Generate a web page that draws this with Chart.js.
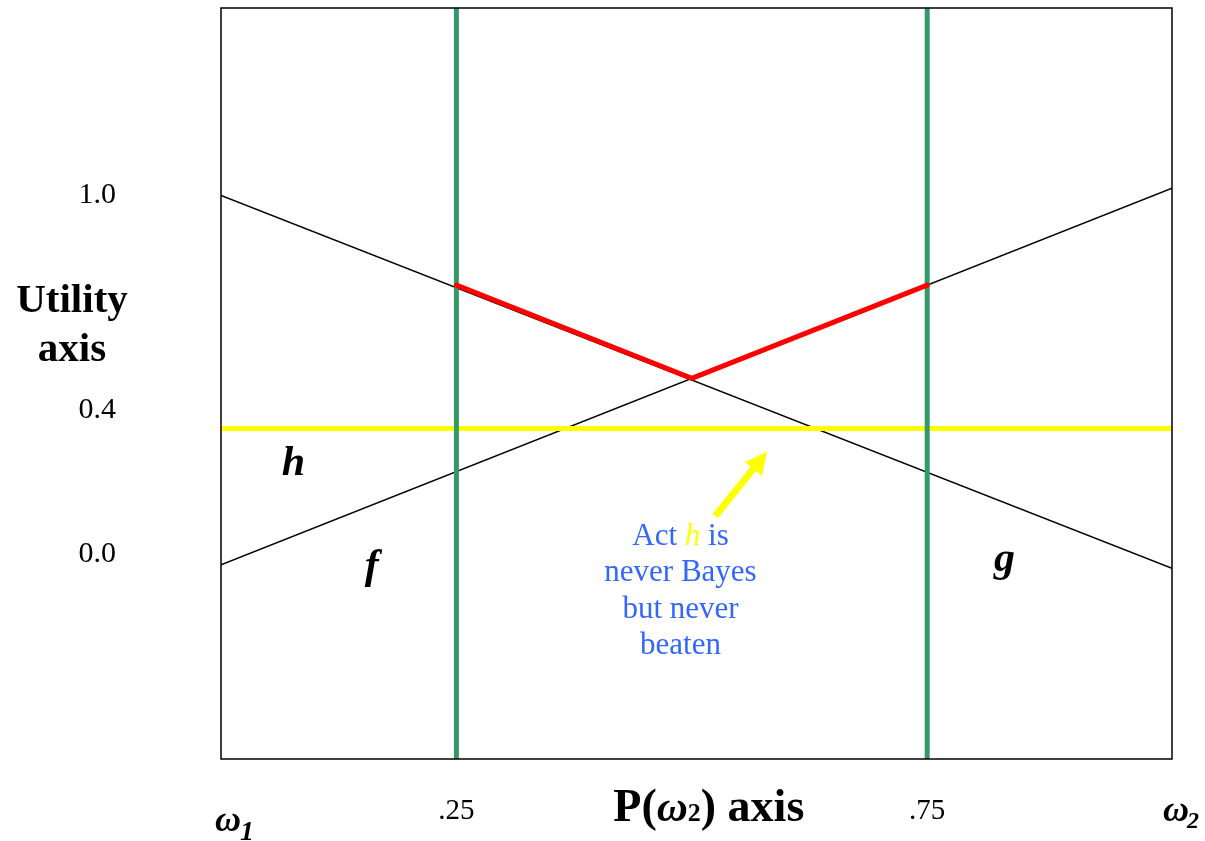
<!DOCTYPE html>
<html>
<head>
<meta charset="utf-8">
<script src="https://cdn.jsdelivr.net/npm/chart.js@4/dist/chart.umd.min.js"></script>
<style>
  html, body { margin: 0; padding: 0; background: #ffffff; }
  #wrap { width: 1205px; height: 841px; }
</style>
</head>
<body>
<div id="wrap"><canvas id="c" width="1205" height="841"></canvas></div>
<script>
// P(ω2) at the two edges of the frame
const pEdge = [0, 1.01];
// Utility of each act at those edges
const utilF = [-0.03, 1.02];
const utilG = [1.0, -0.04];
const utilH = [0.35, 0.35];
// Bayes envelope between the two prior bounds
const bayesP = [0.25, 0.5, 0.75];
const bayesU = [0.75, 0.49, 0.75];
// Prior bounds
const priorMarks = [0.25, 0.75];
// Axis ranges and ticks
const xRange = [0, 1.01];
const yRange = [-0.572, 1.523];
const xTickValues = [0.25, 0.75];
const yTickValues = [1.0, 0.4, 0.0];
// Act labels (position in P, utility)
const actNames = ['h', 'f', 'g'];
const actLabelP = [0.077, 0.16, 0.832];
const actLabelU = [0.22, -0.067, -0.047];
// Note and its arrow
const noteLines = ['Act h is', 'never Bayes', 'but never', 'beaten'];
const noteAnchor = [0.488, 0.025];
const arrowFrom = [0.525, 0.106];
const arrowTo = [0.58, 0.285];

const SERIF = '"Liberation Serif", "Times New Roman", serif';
const GREEN = '#339966';
const RED = '#ff0000';
const YELLOW = '#ffff00';
const BLUE = '#3366ff';

const pts = (xs, ys) => xs.map((x, i) => ({ x: x, y: ys[i] }));

const datasets = [
  { label: 'f', data: pts(pEdge, utilF), borderColor: '#000', borderWidth: 1.5, order: 4 },
  { label: 'g', data: pts(pEdge, utilG), borderColor: '#000', borderWidth: 1.5, order: 4 },
  { label: 'h', data: pts(pEdge, utilH), borderColor: YELLOW, borderWidth: 5, order: 3 },
  ...priorMarks.map(m => ({
    label: 'prior ' + m,
    data: [{ x: m, y: yRange[0] }, { x: m, y: yRange[1] }],
    borderColor: GREEN, borderWidth: 5, order: 2
  })),
  { label: 'Bayes', data: pts(bayesP, bayesU), borderColor: RED, borderWidth: 5,
    borderCapStyle: 'round', borderJoinStyle: 'round', order: 1 }
];

// Frame, axis titles, act labels, note and arrow
const decorations = {
  id: 'decorations',
  afterDraw(chart) {
    const { ctx, chartArea: a, scales: { x, y } } = chart;
    ctx.save();

    // frame
    ctx.strokeStyle = '#000';
    ctx.lineWidth = 1.5;
    ctx.strokeRect(a.left, a.top, a.right - a.left, a.bottom - a.top);

    ctx.fillStyle = '#000';
    ctx.textBaseline = 'alphabetic';

    // y-axis title
    ctx.font = 'bold 41px ' + SERIF;
    ctx.textAlign = 'center';
    ctx.fillText('Utility', a.left - 149, 312);
    ctx.fillText('axis', a.left - 149, 361);

    // act labels
    ctx.font = 'italic bold 42px ' + SERIF;
    actNames.forEach((n, i) => {
      ctx.fillText(n, x.getPixelForValue(actLabelP[i]), y.getPixelForValue(actLabelU[i]));
    });

    // state labels at the ends of the P axis
    ctx.textAlign = 'left';
    const x0 = x.getPixelForValue(xRange[0]);
    const x1 = x.getPixelForValue(xRange[1]);
    ctx.font = 'italic bold 36px ' + SERIF;
    ctx.fillText('ω', x0 - 6, a.bottom + 72);
    ctx.fillText('ω', x1 - 9, a.bottom + 62);
    ctx.font = 'italic bold 28px ' + SERIF;
    ctx.fillText('1', x0 + 19, a.bottom + 81);
    ctx.font = 'italic bold 24px ' + SERIF;
    ctx.fillText('2', x1 + 15, a.bottom + 69);

    // x-axis title: P(ω2) axis
    const segs = [
      { t: 'P(', f: 'bold 46px ' + SERIF },
      { t: 'ω', f: 'italic bold 43px ' + SERIF },
      { t: '2', f: 'bold 26px ' + SERIF },
      { t: ') axis', f: 'bold 46px ' + SERIF }
    ];
    let total = 0;
    segs.forEach(s => { ctx.font = s.f; s.w = ctx.measureText(s.t).width; total += s.w; });
    let cx = x.getPixelForValue(0.5) + 17 - total / 2;
    const titleBase = a.bottom + 62;
    segs.forEach(s => { ctx.font = s.f; ctx.fillText(s.t, cx, titleBase); cx += s.w; });

    // note
    const nx = x.getPixelForValue(noteAnchor[0]);
    let ny = y.getPixelForValue(noteAnchor[1]);
    const noteFont = '31px ' + SERIF;
    const first = [
      { t: 'Act ', f: noteFont, c: BLUE },
      { t: 'h', f: 'italic ' + noteFont, c: YELLOW },
      { t: ' is', f: noteFont, c: BLUE }
    ];
    let w1 = 0;
    first.forEach(s => { ctx.font = s.f; s.w = ctx.measureText(s.t).width; w1 += s.w; });
    let lx = nx - w1 / 2;
    first.forEach(s => { ctx.font = s.f; ctx.fillStyle = s.c; ctx.fillText(s.t, lx, ny); lx += s.w; });
    ctx.font = noteFont;
    ctx.fillStyle = BLUE;
    ctx.textAlign = 'center';
    noteLines.slice(1).forEach(line => { ny += 36.4; ctx.fillText(line, nx, ny); });

    // arrow pointing at h
    const ax = x.getPixelForValue(arrowFrom[0]), ay = y.getPixelForValue(arrowFrom[1]);
    const bx = x.getPixelForValue(arrowTo[0]), by = y.getPixelForValue(arrowTo[1]);
    const ang = Math.atan2(by - ay, bx - ax);
    const len = Math.hypot(bx - ax, by - ay);
    const headL = 22, headW = 11, shaftW = 3.5;
    ctx.translate(ax, ay);
    ctx.rotate(ang);
    ctx.fillStyle = YELLOW;
    ctx.beginPath();
    ctx.moveTo(0, -shaftW);
    ctx.lineTo(len - headL, -shaftW);
    ctx.lineTo(len - headL, -headW);
    ctx.lineTo(len, 0);
    ctx.lineTo(len - headL, headW);
    ctx.lineTo(len - headL, shaftW);
    ctx.lineTo(0, shaftW);
    ctx.closePath();
    ctx.fill();

    ctx.restore();
  }
};

// keep the frame exactly inside the layout padding
const noScalePadding = s => {
  s.paddingTop = 0; s.paddingBottom = 0; s.paddingLeft = 0; s.paddingRight = 0;
};

new Chart(document.getElementById('c'), {
  type: 'line',
  data: { datasets: datasets },
  options: {
    responsive: false,
    animation: false,
    elements: { point: { radius: 0, hoverRadius: 0 }, line: { tension: 0, fill: false } },
    layout: { padding: { top: 8, right: 33, left: 0, bottom: 0 } },
    plugins: { legend: { display: false }, tooltip: { enabled: false }, title: { display: false } },
    events: [],
    scales: {
      x: {
        type: 'linear',
        min: xRange[0], max: xRange[1],
        grid: { display: false, drawTicks: false },
        border: { display: false },
        afterBuildTicks: s => { s.ticks = xTickValues.map(v => ({ value: v })); },
        afterFit: s => { s.height = 82; noScalePadding(s); },
        ticks: {
          autoSkip: false, maxRotation: 0, padding: 35,
          color: '#000',
          font: { family: SERIF, size: 29 },
          callback: v => String(v).replace(/^0/, '')
        }
      },
      y: {
        type: 'linear',
        min: yRange[0], max: yRange[1],
        grid: { display: false, drawTicks: false },
        border: { display: false },
        afterBuildTicks: s => { s.ticks = yTickValues.map(v => ({ value: v })); },
        afterFit: s => { s.width = 221; noScalePadding(s); },
        ticks: {
          autoSkip: false, padding: 105,
          color: '#000',
          font: { family: SERIF, size: 30 },
          callback: v => Number(v).toFixed(1)
        }
      }
    }
  },
  plugins: [decorations]
});
</script>
</body>
</html>
